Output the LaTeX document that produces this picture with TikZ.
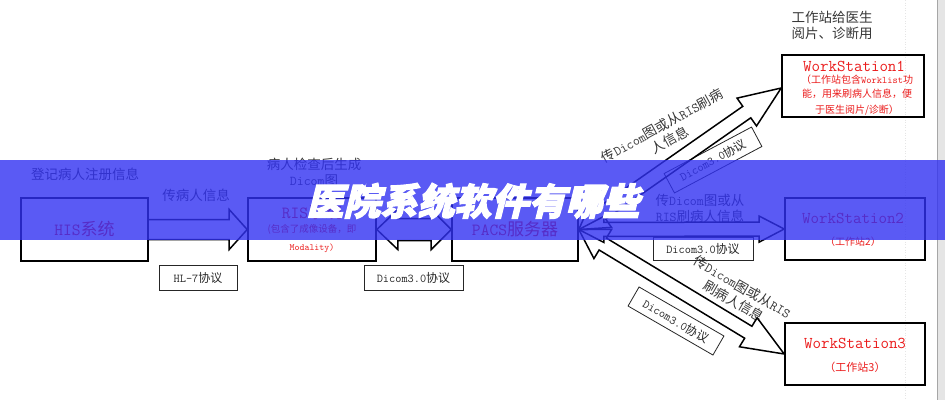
\documentclass[tikz,border=0pt]{standalone}
\usepackage{fontspec}
\usetikzlibrary{calc}
\newfontfamily\cjk{Noto Sans CJK SC}
\newfontfamily\cjktitle[FakeSlant=0.25,FakeBold=3]{Noto Sans CJK SC}
\newcommand\lt[1]{{\ttfamily #1}}
\newcommand\fs[1]{\fontsize{#1}{#1}\selectfont}
\definecolor{wred}{RGB}{235,28,28}
\definecolor{lblc}{RGB}{55,55,55}
\definecolor{bandc}{RGB}{49,49,242}
\newcommand\dblarr[6]{%
  \coordinate (tmpA) at ($(#1)!#5!(#2)$);
  \coordinate (tmpB) at ($(#2)!#6!(#1)$);
  \draw[arr] (#1) -- ($(tmpA)!#4!90:(#2)$) -- ($(tmpA)!#3!90:(#2)$)
    -- ($(tmpB)!#3!-90:(#1)$) -- ($(tmpB)!#4!-90:(#1)$) -- (#2)
    -- ($(tmpB)!#4!90:(#1)$) -- ($(tmpB)!#3!90:(#1)$)
    -- ($(tmpA)!#3!-90:(#2)$) -- ($(tmpA)!#4!-90:(#2)$) -- cycle;}
\newcommand\sglarr[5]{%
  \coordinate (tmpB) at ($(#2)!#5!(#1)$);
  \draw[arr] ($(#1)!#3!90:(#2)$) -- ($(tmpB)!#3!-90:(#1)$) -- ($(tmpB)!#4!-90:(#1)$)
    -- (#2) -- ($(tmpB)!#4!90:(#1)$) -- ($(tmpB)!#3!90:(#1)$)
    -- ($(#1)!#3!-90:(#2)$);}
\tikzset{
  box/.style={draw=black, line width=1.6pt, inner sep=0pt, font=\cjk},
  pbox/.style={draw=black!85, line width=0.8pt, inner sep=0pt, minimum height=23pt, font=\cjk\fs{12}, text=black!85},
  lbl/.style={inner sep=0pt, font=\cjk\fontsize{13.5}{16.5}\selectfont, text=lblc, align=center},
  ttl/.style={inner sep=0pt, font=\cjk\fs{17}, text=wred},
  sml/.style={inner sep=0pt, font=\cjk\fs{10}, text=wred},
  arr/.style={draw=black, line width=1.5pt, line join=miter},
}
\begin{document}
\begin{tikzpicture}[x=1pt,y=-1pt]
\useasboundingbox (0,0) rectangle (945,400);
\fill[white] (0,0) rectangle (945,400);
\fill[black!10] (937,0) rectangle (945,400);
\draw[black!35, line width=0.8pt] (937,0) -- (937,400);
\draw[black!10, dotted, line width=0.6pt] (905,0) -- (905,400);

% boxes
\node[box, minimum width=127pt, minimum height=63pt] (his) at (84.5,229.5) {};
\node[box, minimum width=128pt, minimum height=63pt] (ris) at (312,229.5) {};
\node[box, minimum width=126pt, minimum height=63pt] (pacs) at (515,229.5) {};
\node[box, minimum width=142pt, minimum height=62pt] (ws1) at (853,86) {};
\node[box, minimum width=140pt, minimum height=62pt] (ws2) at (855,229) {};
\node[box, minimum width=140pt, minimum height=62pt] (ws3) at (855,354) {};

% box texts
\node[ttl] (histxt) at (84.5,229) {\lt{HIS}系统};
\node[ttl] (ristxt) at (312,212) {\lt{RIS}系统};
\node[inner sep=0pt, font=\cjk\fs{9.5}, text=wred] (ris2) at (312,229) {(包含了成像设备，即};
\node[inner sep=0pt, font=\ttfamily\fs{9.5}, text=wred] (ris3) at (312,248) {Modality)};
\node[ttl] (pacstxt) at (515,229) {\lt{PACS}服务器};
\node[ttl, font=\ttfamily\fs{16.5}] (w1a) at (854,66) {WorkStation1};
\node[sml] (w1b) at (857,80) {（工作站包含\lt{Worklist}功};
\node[sml] (w1c) at (857,94) {能，用来刷病人信息，便};
\node[sml] (w1d) at (857,110) {于医生阅片/诊断）};
\node[ttl, font=\ttfamily\fs{16.5}] (w2a) at (853,218) {WorkStation2};
\node[sml] (w2b) at (853,242) {（工作站2）};
\node[ttl, font=\ttfamily\fs{16.5}] (w3a) at (855,343) {WorkStation3};
\node[sml, font=\cjk\fs{11}] (w3b) at (855,367) {（工作站3）};

% labels
\node[lbl] (l1) at (85,174) {登记病人注册信息};
\node[lbl] (l2) at (196,195) {传病人信息};
\node[lbl] (l3) at (314,172.5) {病人检查后生成\\\lt{Dicom}图};
\node[lbl] (l4) at (832,25.5) {工作站给医生\\阅片、诊断用};
\node[lbl] (l5) at (700,208.5) {传\lt{Dicom}图或从\\\lt{RIS}刷病人信息};
\node[lbl, rotate=29] (l6) at (666,133) {传\lt{Dicom}图或从\lt{RIS}刷病\\人信息};
\node[lbl, rotate=-30] (l7) at (738,294) {传\lt{Dicom}图或从\lt{RIS}\\刷病人信息};

% protocol boxes
\node[pbox, minimum width=78pt, minimum height=25pt] (hl7) at (198,277.5) {\lt{HL-7}协议};
\node[pbox, minimum width=99pt, minimum height=25pt] (dc1) at (413.5,277.5) {\lt{Dicom3.0}协议};
\node[pbox, minimum width=100pt] (dc2) at (703,248.5) {\lt{Dicom3.0}协议};
\node[pbox, minimum width=99pt, minimum height=22pt, rotate=28] (dc3) at (713,160) {\lt{Dicom3.0}协议};
\node[pbox, minimum width=98pt, minimum height=22pt, rotate=-30] (dc4) at (676,321) {\lt{Dicom3.0}协议};

% connectors
\coordinate (w1t) at ($(ws1.west)+(0,2)$);
\sglarr{his.east}{ris.west}{10pt}{20pt}{18pt}
\dblarr{ris.east}{pacs.west}{11pt}{20pt}{21pt}{20pt}
\dblarr{pacs.east}{ws2.west}{7pt}{13pt}{25pt}{25pt}
\dblarr{pacs.east}{w1t}{7pt}{17pt}{28pt}{42pt}
\dblarr{pacs.east}{ws3.west}{7pt}{17pt}{28pt}{42pt}

% overlay banner
\fill[bandc, opacity=0.8] (0,160) rectangle (945,240);
\node[inner sep=0pt, font=\cjktitle\bfseries\fs{37}, text=white] (title) at (473,201) {医院系统软件有哪些};
\end{tikzpicture}
\end{document}
